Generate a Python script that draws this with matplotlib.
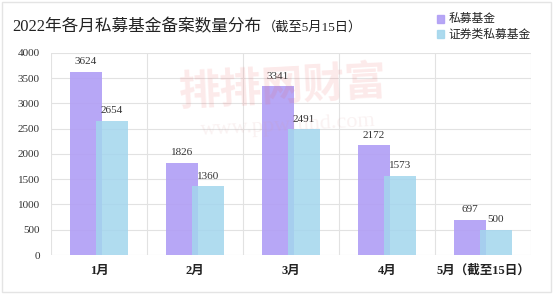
import numpy as np
import matplotlib
matplotlib.use('Agg')
from matplotlib import pyplot as plt
from matplotlib.patches import Rectangle

plt.rcParams['font.family'] = ['Liberation Serif', 'Noto Sans CJK SC']

# data
months = ['1月', '2月', '3月', '4月', '5月（截至15日）']
private_funds = [3624, 1826, 3341, 2172, 697]
securities_funds = [2654, 1360, 2491, 1573, 500]
series_names = ['私募基金', '证券类私募基金']

purple = (0.69, 0.62, 0.96)
blue = (0.64, 0.84, 0.93)

fig = plt.figure(figsize=(5.54, 2.96), dpi=100)
fig.patch.set_facecolor('white')
fig.patches.append(Rectangle((0.004, 0.014), 0.99, 0.98, transform=fig.transFigure,
                             fill=False, edgecolor='#e4e4e4', linewidth=1.0))

ax = fig.add_axes([0.092, 0.1385, 0.8665, 0.6825])
x = np.arange(len(months))
w = 0.34
off = 0.135
ax.bar(x - off, private_funds, w, color=purple, alpha=0.9, zorder=2)
ax.bar(x + off, securities_funds, w, color=blue, alpha=0.85, zorder=3)

for xi, v in zip(x - off, private_funds):
    ax.text(xi, v + 110, str(v), ha='center', va='bottom', fontsize=8, color='#333333')
for xi, v in zip(x + off, securities_funds):
    ax.text(xi, v + 110, str(v), ha='center', va='bottom', fontsize=8, color='#333333')

ax.set_xlim(-0.5, len(months) - 0.5)
ax.set_ylim(0, 4000)
ax.set_yticks(range(0, 4001, 500))
ax.set_xticks(x)
ax.set_xticklabels(months, fontsize=9, fontweight='bold', color='#222222')
ax.tick_params(axis='y', labelsize=8, colors='#333333', length=0, pad=8)
ax.tick_params(axis='x', length=0, pad=7)

# grid: horizontal at ticks, vertical at category boundaries
for y in range(500, 4001, 500):
    ax.axhline(y, color='#e2e2e2', linewidth=0.8, zorder=1)
for b in np.arange(-0.5, len(months), 1.0):
    ax.axvline(b, color='#e2e2e2', linewidth=0.8, zorder=1)
for s in ax.spines.values():
    s.set_visible(False)
ax.axhline(0, color='#e2e2e2', linewidth=0.8, zorder=1)

# title + smaller note right after it
title = fig.text(0.022, 0.895, '2022年各月私募基金备案数量分布', fontsize=12, color='#222222')
fig.canvas.draw()
bb = title.get_window_extent().transformed(fig.transFigure.inverted())
fig.text(bb.x1 + 0.002, 0.895, '（截至5月15日）', fontsize=9.5, color='#222222')

# legend
for i, (name, c) in enumerate(zip(series_names, [purple, blue])):
    yy = 0.935 - i * 0.052
    fig.patches.append(Rectangle((0.788, yy - 0.012), 0.014, 0.026, transform=fig.transFigure,
                                 color=c, alpha=0.9))
    fig.text(0.81, yy, name, fontsize=8.5, va='center', color='#222222')

# watermark
fig.text(0.51, 0.70, '排排网财富', fontsize=30, fontweight='bold', color=(0.93, 0.35, 0.35),
         alpha=0.13, ha='center', va='center', rotation=3, zorder=10)
fig.text(0.52, 0.575, 'www.ppwfund.com', fontsize=16, color=(0.85, 0.6, 0.6),
         alpha=0.13, ha='center', va='center', rotation=3, zorder=10)

fig.savefig('out.png', dpi=100)
